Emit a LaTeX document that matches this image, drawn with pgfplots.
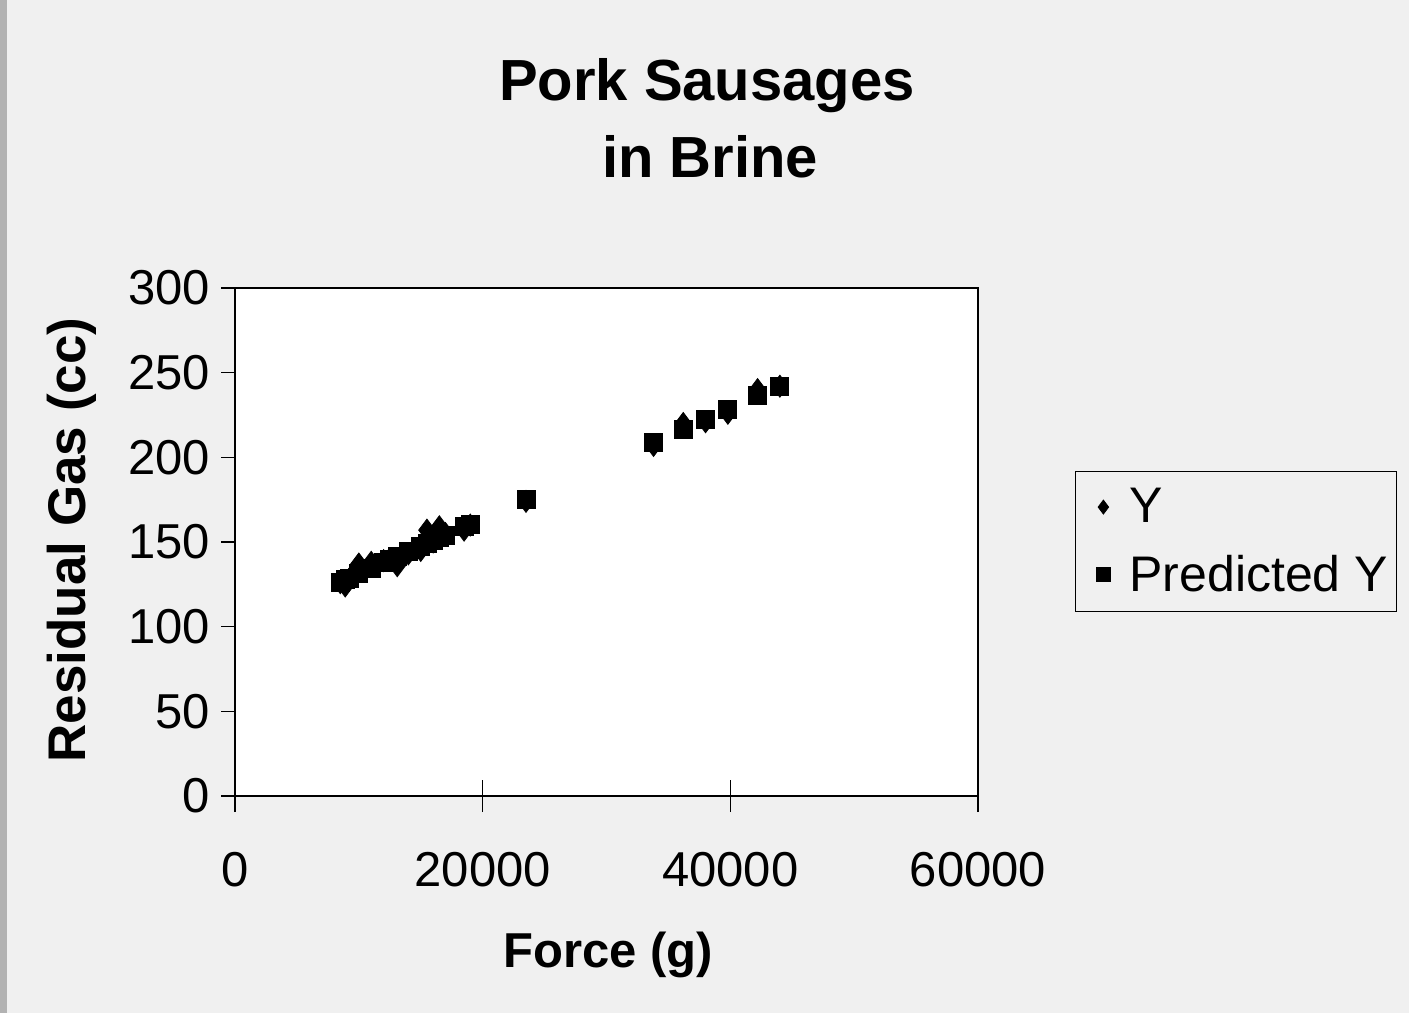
\documentclass[border=0pt]{standalone}
\usepackage{fontspec}
\setmainfont{Liberation Sans}
\usepackage{pgfplots}
\pgfplotsset{compat=1.18}
\begin{document}
\begin{tikzpicture}[x=1pt,y=1pt]
\useasboundingbox (0,0) rectangle (704.5,506.5);
\fill[black!6] (0,0) rectangle (704.5,506.5);
\fill[black!30] (0,0) rectangle (3.5,506.5);
\node[font=\fontsize{29}{34}\selectfont\bfseries] at (353.5,463.5) {Pork Sausages};
\node[font=\fontsize{29}{34}\selectfont\bfseries] at (355,428) {in Brine};
\begin{axis}[
  at={(117.5pt,108.5pt)}, anchor=south west,
  scale only axis, width=371.5pt, height=254pt,
  xmin=0, xmax=60000, ymin=0, ymax=300,
  xtick={0,20000,40000,60000}, ytick={0,50,...,300},
  xtick pos=bottom, ytick pos=left,
  scaled x ticks=false,
  xticklabel style={/pgf/number format/1000 sep={}},
  /pgf/number format/assume math mode=true,
  axis background/.style={fill=white},
  axis line style={black, line width=0.8pt},
  tick style={black, line width=0.8pt},
  x tick style={draw=none},
  major tick length=7pt, ytick align=outside, xtick align=center,
  every x tick label/.append style={font=\fontsize{24.5}{29}\selectfont, yshift=-21pt},
  every y tick label/.append style={font=\fontsize{24.5}{29}\selectfont, xshift=-2pt},
  xlabel={\textbf{Force (g)}},
  ylabel={\textbf{Residual Gas (cc)}},
  xlabel style={font=\fontsize{24.5}{29}\selectfont, at={(axis description cs:0.502,-0.313)}, anchor=center},
  ylabel style={font=\fontsize{26.5}{31}\selectfont, at={(axis description cs:-0.2194,0.504)}, anchor=center},
  legend style={at={(axis description cs:1.1306,0.6398)}, anchor=north west,
    draw=black, fill=none, font=\fontsize{25}{30}\selectfont,
    inner xsep=2pt, inner ysep=6.5pt, row sep=10.5pt},
  legend cell align=left,
  legend image code/.code={\path[draw=none, fill=none] (0pt,-3pt) rectangle (23pt,3pt);
    \draw[#1, mark size=3.5pt] plot coordinates {(12pt,0pt)};},
]
\addplot[only marks, mark=diamond*, mark size=5.5pt, black] coordinates {
(8500,126) (8900,124) (9200,128) (10000,137) (11000,138) (12000,139)
(12500,140) (13100,136) (14000,143) (15000,145) (15500,157) (16000,150)
(16500,159) (17000,155) (18500,157) (19000,160) (23500,174) (33800,207)
(36200,220) (38000,221) (39800,226) (42200,240) (44000,242)
};
\addlegendentry{Y}
\addplot[only marks, mark=square*, mark size=4.5pt, black] coordinates {
(8500,126.4) (8900,127.7) (9200,128.7) (10000,131.3) (11000,134.6) (12000,137.8)
(12500,139.5) (13100,141.4) (14000,144.3) (15000,147.6) (15500,149.2) (16000,150.9)
(16500,152.5) (17000,154.1) (18500,159.0) (19000,160.6) (23500,175.3) (33800,208.9)
(36200,216.7) (38000,222.6) (39800,228.4) (42200,236.3) (44000,242.1)
};
\addlegendentry{Predicted Y}
\end{axis}
\begin{axis}[
  at={(117.5pt,108.5pt)}, anchor=south west,
  scale only axis, width=371.5pt, height=254pt,
  xmin=0, xmax=60000, ymin=0, ymax=300,
  xtick={0,20000,40000,60000}, xticklabels={}, ytick=\empty,
  scaled x ticks=false, scaled y ticks=false,
  xtick pos=bottom, xtick align=center, major tick length=16pt,
  axis line style={draw=none},
  tick style={black, line width=0.8pt},
]
\end{axis}
\end{tikzpicture}
\end{document}
